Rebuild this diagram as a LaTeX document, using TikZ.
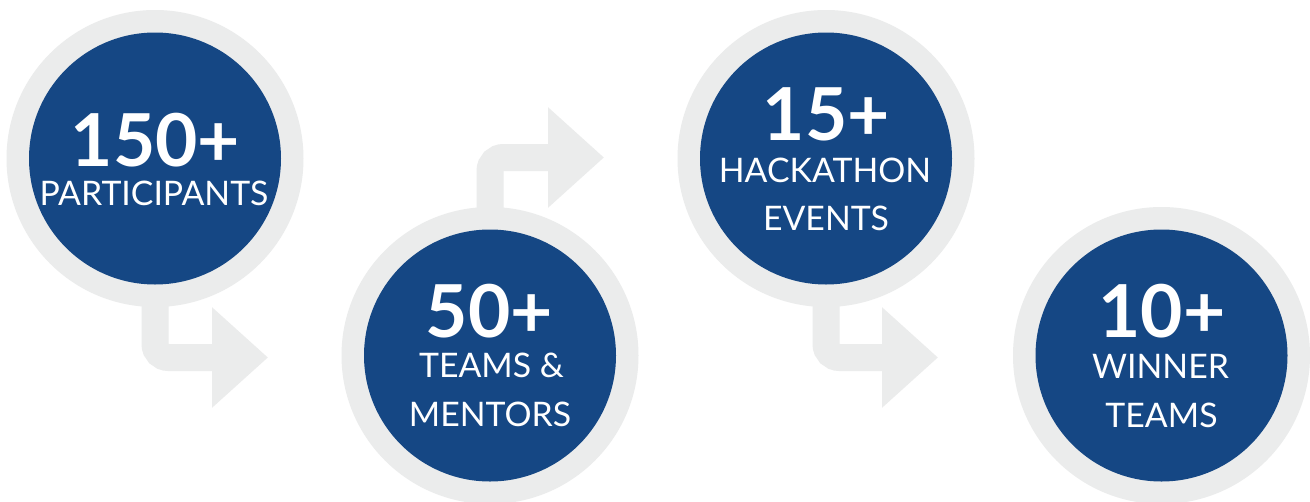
\documentclass[tikz,border=0pt]{standalone}
\usepackage{fontspec}
\setmainfont{Lato}
\usetikzlibrary{arrows.meta}
\definecolor{ringgray}{HTML}{EBECEC}
\definecolor{discblue}{HTML}{154784}
\tikzset{
  ring/.style={circle, fill=ringgray, minimum size=297pt, inner sep=0pt},
  disc/.style={circle, fill=discblue, minimum size=252pt, inner sep=0pt},
  flow/.style={draw=ringgray, line width=27pt, rounded corners=13.5pt,
    -{Triangle[length=56pt,width=97pt]}},
  big/.style={anchor=base, text=white, font=\fontsize{73}{73}\bfseries, inner sep=0pt},
  small/.style={anchor=base, text=white, font=\fontsize{33.8}{34}\selectfont, inner sep=0pt}
}
\begin{document}
\begin{tikzpicture}[x=1pt,y=-1pt]
\useasboundingbox (0,0) rectangle (1310,501);
\fill[white] (0,0) rectangle (1310,501);
% anchor points for arrow tips
\coordinate (t1) at (268,357.5);
\coordinate (t2) at (604,157.5);
\coordinate (t3) at (938,357.5);
% centres
\coordinate (p1) at (155,158.5);
\coordinate (p2) at (490,355.5);
\coordinate (p3) at (826,158.5);
\coordinate (p4) at (1161.5,355.5);
% connectors
\draw[flow] (p1) |- (t1);
\draw[flow] (p2) |- (t2);
\draw[flow] (p3) |- (t3);
% rings
\node[ring] (r1) at (p1) {};
\node[ring] (r2) at (p2) {};
\node[ring] (r3) at (p3) {};
\node[ring] (r4) at (p4) {};
% discs
\node[disc] (d1) at (p1) {};
\node[disc] (d2) at (p2) {};
\node[disc] (d3) at (p3) {};
\node[disc] (d4) at (p4) {};
% texts
\node[big] (n1) at (155.5,166) {150+};
\node[small] (l1) at (154,205) {PARTICIPANTS};
\node[big] (n2) at (489.5,337) {50+};
\node[small] (l2a) at (491.5,377) {TEAMS \&};
\node[small] (l2b) at (490,426) {MENTORS};
\node[big] (n3) at (826.5,140) {15+};
\node[small] (l3a) at (825,182) {HACKATHON};
\node[small] (l3b) at (826,230) {EVENTS};
\node[big] (n4) at (1162,337) {10+};
\node[small] (l4a) at (1160.5,378) {WINNER};
\node[small] (l4b) at (1161.5,427) {TEAMS};
\end{tikzpicture}
\end{document}
